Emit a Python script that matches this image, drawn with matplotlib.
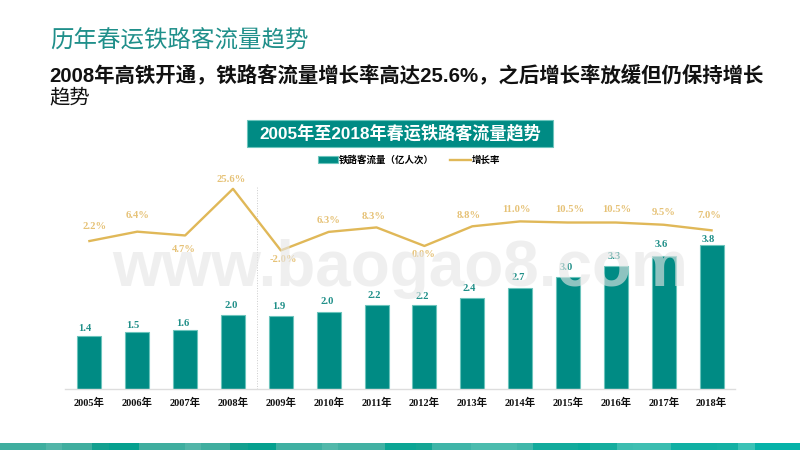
import matplotlib
matplotlib.use('Agg')
import matplotlib.pyplot as plt
from matplotlib.patches import Rectangle

plt.rcParams['font.family'] = ['Liberation Sans', 'Noto Sans CJK SC', 'DejaVu Sans']
SERIF = ['Liberation Serif', 'Noto Sans CJK SC']

categories = ['2005年', '2006年', '2007年', '2008年', '2009年', '2010年', '2011年',
              '2012年', '2013年', '2014年', '2015年', '2016年', '2017年', '2018年']
passengers = [1.39, 1.49, 1.54, 1.93, 1.90, 2.01, 2.20, 2.20, 2.39, 2.64, 2.92, 3.22, 3.48, 3.78]
passenger_labels = ['1.4', '1.5', '1.6', '2.0', '1.9', '2.0', '2.2', '2.2', '2.4', '2.7', '3.0',
                    '3.3', '3.6', '3.8']
growth = [2.2, 6.4, 4.7, 25.6, -2.0, 6.3, 8.3, 0.0, 8.8, 11.0, 10.5, 10.5, 9.5, 7.0]
growth_labels = ['2.2%', '6.4%', '4.7%', '25.6%', '-2.0%', '6.3%', '8.3%', '0.0%',
                 '8.8%', '11.0%', '10.5%', '10.5%', '9.5%', '7.0%']
# label offsets from their marks, in pixels
growth_dx = [5.5, 0.6, -1.3, -2, 3, 0, -3, -1, -3.7, -3.6, 1.5, 0.6, 0, -2]
growth_dy = [15, 16, -14.5, 9, -9.5, 11, 10.5, -9, 10.4, 11.5, 12.6, 12.6, 11.8, 14.4]
pass_dx = [-5, -4, -2, -2, -2, -2, -2, -2, -3, -2, -2, -2, -2, -3]
pass_dy = [7, 6.8, 6.8, 9.8, 9.8, 10.3, 9, 8.3, 9, 10.5, 9.5, 9, 11.3, 4.8]
band_edges = [0, 46, 62, 92, 109, 139, 185, 201, 230, 248, 276, 322, 338, 385, 416,
              432, 471, 517, 533, 578, 590, 617, 633, 650, 671, 717, 738, 755, 800]
band_colors = ['#3fae9f', '#52b5a8', '#40ae9f', '#13a08f', '#05a08e', '#3fae9f', '#52b5a8',
               '#40ae9f', '#13a08f', '#05a08e', '#3fb0a2', '#52b8aa', '#42b1a3', '#0ba594',
               '#14a594', '#3fb5a8', '#4bbcae', '#40b7aa', '#12ab9c', '#08aa9a', '#15ad9e',
               '#3cbdb0', '#3fbfb2', '#3abdb0', '#10b0a3', '#14b1a4', '#3bc2b6', '#06b2a8']

TEAL = '#008b84'
GOLD = '#e0b858'
W, H = 800, 450
PT = 0.72
fig = plt.figure(figsize=(8, 4.5), dpi=100, facecolor='white')

def fx(x): return x / W
def fy(y): return 1 - y / H

# axes: pixel box x 65..735, y 179..389
ax = fig.add_axes([fx(65), fy(389), 670 / W, 210 / H])
x = list(range(len(categories)))
bars = ax.bar(x, passengers, width=0.5, color=TEAL, edgecolor='#6cc4bc', linewidth=0.8,
              label='铁路客流量（亿人次）', zorder=2)
ax.set_xlim(-0.51, 13.49)
ax.set_ylim(0, 210 / 38.2)
ax.set_xticks(x, categories, fontfamily=SERIF, fontsize=7.5, fontweight='bold', color='#111111')
ax.tick_params(axis='x', length=0, pad=6.5)
ax.set_yticks([])
for s in ['top', 'left', 'right']:
    ax.spines[s].set_visible(False)
ax.spines['bottom'].set_color('#dddddd')
ax.spines['bottom'].set_linewidth(1)
for xi, v, t, dx, dy in zip(x, passengers, passenger_labels, pass_dx, pass_dy):
    ax.annotate(t, (xi, v), xytext=(dx * PT, dy * PT), textcoords='offset points', ha='center',
                va='center', fontfamily=SERIF, fontsize=7.6, fontweight='bold', color='#1f8f88', zorder=3)
ax.axvline(3.5, ymin=0, ymax=0.96, color='#cccccc', linewidth=0.7, linestyle=':', zorder=1)

ax2 = ax.twinx()
ax2.set_ylim(-64.1, 30)
ax2.axis('off')
line, = ax2.plot(x, growth, color=GOLD, linewidth=1.7, label='增长率', zorder=3)
for xi, v, t, dx, dy in zip(x, growth, growth_labels, growth_dx, growth_dy):
    ax2.annotate(t, (xi, v), xytext=(dx * PT, dy * PT), textcoords='offset points', ha='center',
                 va='center', fontfamily=SERIF, fontsize=7.6, fontweight='bold', color='#e6c277')

leg = fig.legend(handles=[bars, line], loc='center', bbox_to_anchor=(fx(409), fy(160)), ncol=2,
                 frameon=False, handlelength=2.2, handleheight=0.7,
                 handletextpad=0.1, columnspacing=1.7,
                 prop={'family': ['Noto Sans CJK SC'], 'size': 6.8, 'weight': 'bold'})

# Watermark
fig.text(fx(400), fy(286), 'www.baogao8.com', ha='center', va='baseline', fontsize=46,
         fontweight='bold', color='#e6e6e6', alpha=0.62, zorder=6, fontfamily='Liberation Sans')

# Headings
fig.text(fx(50), fy(41), '历年春运铁路客流量趋势', fontsize=16.9, color='#1f8f8a', va='center',
         fontfamily=['Noto Sans CJK SC'])
fig.text(fx(49), fy(75), '2008年高铁开通，铁路客流量增长率高达25.6%，之后增长率放缓但仍保持增长',
         fontsize=14.7, color='#111111', va='center', fontweight='bold',
         fontfamily=['Liberation Sans', 'Noto Sans CJK SC'])
fig.text(fx(49), fy(98), '趋势', fontsize=14.7, color='#111111', va='center',
         fontfamily=['Noto Sans CJK SC'])

# Title box
fig.add_artist(Rectangle((fx(247), fy(147)), 306 / W, 27 / H, transform=fig.transFigure,
                         facecolor=TEAL, edgecolor='#6cc4bc', linewidth=0.8))
fig.text(fx(400.5), fy(133), '2005年至2018年春运铁路客流量趋势', fontsize=12.35, color='white',
         ha='center', va='center', fontweight='bold',
         fontfamily=['Liberation Sans', 'Noto Sans CJK SC'])

# Bottom band
for i, c in enumerate(band_colors):
    fig.add_artist(Rectangle((fx(band_edges[i]), 0), (band_edges[i + 1] - band_edges[i]) / W, 7 / H,
                             transform=fig.transFigure, facecolor=c, edgecolor='none'))

fig.savefig('out.png', dpi=100)
